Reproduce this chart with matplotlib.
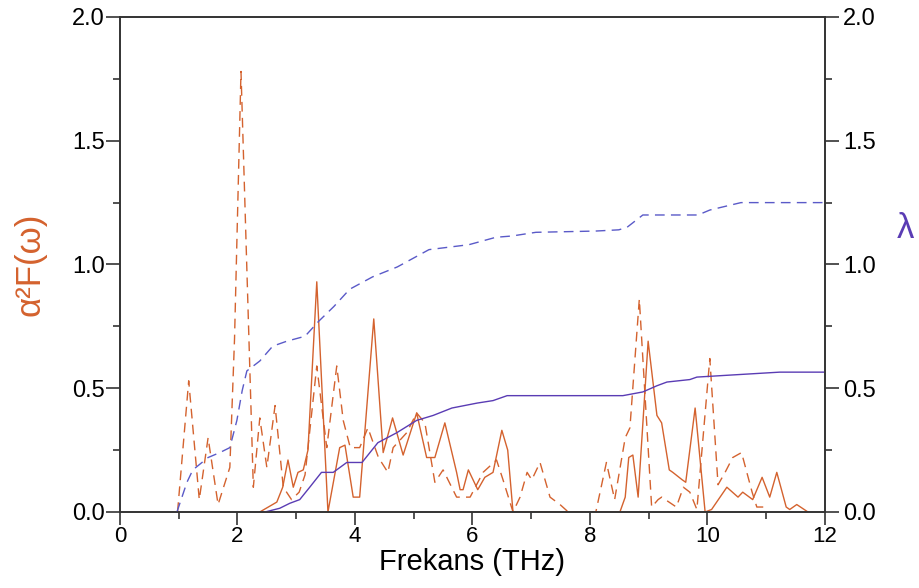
import matplotlib.pyplot as plt
from matplotlib.ticker import MultipleLocator

plt.rcParams['font.family'] = ['Liberation Sans', 'DejaVu Sans']

# a2F(w) - dashed (first case)
a2f_dash_x = [0.98, 1.17, 1.35, 1.50, 1.67, 1.87, 1.95, 2.06, 2.27, 2.38, 2.50, 2.64, 2.78, 2.92,
              3.05, 3.15, 3.35, 3.52, 3.69, 3.80, 3.92, 4.08, 4.22, 4.40, 4.56, 4.65, 4.88, 5.05,
              5.19, 5.36, 5.50, 5.73, 5.96, 6.18, 6.41, 6.52, 6.69, 6.81, 6.93, 7.01, 7.15, 7.32,
              7.49, 7.63, 8.10, 8.28, 8.42, 8.60, 8.68, 8.84, 9.05, 9.16, 9.22, 9.47, 9.59, 9.70,
              9.82, 10.04, 10.18, 10.30, 10.43, 10.58, 10.76, 10.84, 10.95]
a2f_dash_y = [0.00, 0.53, 0.05, 0.30, 0.03, 0.18, 0.70, 1.78, 0.10, 0.38, 0.18, 0.43, 0.10, 0.05,
              0.08, 0.15, 0.59, 0.26, 0.59, 0.37, 0.26, 0.26, 0.34, 0.22, 0.16, 0.26, 0.32, 0.40,
              0.36, 0.12, 0.17, 0.06, 0.06, 0.16, 0.21, 0.13, 0.00, 0.06, 0.16, 0.13, 0.20, 0.06,
              0.03, 0.00, 0.00, 0.20, 0.05, 0.30, 0.34, 0.86, 0.02, 0.05, 0.06, 0.02, 0.10, 0.08,
              0.01, 0.62, 0.11, 0.16, 0.22, 0.24, 0.08, 0.02, 0.02]

# a2F(w) - solid (second case)
a2f_solid_x = [2.38, 2.67, 2.77, 2.86, 2.95, 3.03, 3.12, 3.20, 3.35, 3.54, 3.74, 3.83, 3.97, 4.08,
               4.32, 4.48, 4.64, 4.82, 5.05, 5.22, 5.36, 5.53, 5.73, 5.79, 5.84, 5.93, 6.09, 6.21,
               6.35, 6.50, 6.60, 6.69, 8.51, 8.60, 8.66, 8.73, 8.82, 8.99, 9.14, 9.22, 9.35, 9.41,
               9.57, 9.63, 9.79, 9.96, 10.07, 10.33, 10.52, 10.60, 10.77, 10.93, 11.06, 11.18,
               11.34, 11.40, 11.52, 11.71]
a2f_solid_y = [0.00, 0.04, 0.10, 0.21, 0.10, 0.16, 0.17, 0.25, 0.93, 0.00, 0.26, 0.27, 0.06, 0.06,
               0.78, 0.24, 0.38, 0.23, 0.40, 0.22, 0.22, 0.36, 0.16, 0.09, 0.09, 0.17, 0.09, 0.14,
               0.16, 0.33, 0.25, 0.00, 0.00, 0.06, 0.22, 0.23, 0.06, 0.69, 0.39, 0.36, 0.17, 0.16,
               0.13, 0.12, 0.42, 0.00, 0.01, 0.10, 0.06, 0.08, 0.05, 0.14, 0.06, 0.16,
               0.02, 0.01, 0.03, 0.00]

# lambda - dashed
lam_dash_x = [0.97, 1.14, 1.24, 1.50, 1.70, 1.87, 1.99, 2.08, 2.16, 2.38, 2.60, 2.84, 3.15, 3.38,
              3.64, 3.91, 4.30, 4.72, 5.26, 5.94, 6.40, 6.67, 7.08, 8.09, 8.49, 8.63, 8.90, 9.84,
              10.04, 10.57, 12.0]
lam_dash_y = [0.00, 0.12, 0.17, 0.22, 0.24, 0.26, 0.37, 0.49, 0.57, 0.61, 0.67, 0.69, 0.71, 0.77,
              0.83, 0.90, 0.95, 0.99, 1.06, 1.08, 1.11, 1.115, 1.13, 1.135, 1.14, 1.15, 1.20, 1.20,
              1.22, 1.25, 1.25]

# lambda - solid
lam_solid_x = [2.47, 2.72, 2.89, 3.06, 3.23, 3.43, 3.63, 3.86, 4.12, 4.39, 4.71, 5.05, 5.33, 5.65,
               6.08, 6.35, 6.59, 8.56, 8.90, 9.14, 9.31, 9.70, 9.82, 10.38, 11.23, 12.0]
lam_solid_y = [0.00, 0.015, 0.035, 0.05, 0.10, 0.16, 0.16, 0.20, 0.20, 0.28, 0.32, 0.37, 0.39, 0.42,
               0.44, 0.45, 0.47, 0.47, 0.485, 0.51, 0.525, 0.535, 0.545, 0.553, 0.565, 0.565]

yticks = [0, 0.5, 1.0, 1.5, 2.0]
ytick_labels = ['0.0', '0.5', '1.0', '1.5', '2.0']

orange = '#d4622e'
purple = '#5a3cb4'
blue_purple = '#5a5ac8'

fig = plt.figure(figsize=(9.2, 5.88), dpi=100)
ax = fig.add_axes([0.1304, 0.1293, 0.7663, 0.8418])
ax2 = ax.twinx()

ax.plot(a2f_dash_x, a2f_dash_y, color=orange, lw=1.0, ls=(0, (7, 4.5)))
ax.plot(a2f_solid_x, a2f_solid_y, color=orange, lw=1.0)
ax2.plot(lam_dash_x, lam_dash_y, color=blue_purple, lw=1.0, ls=(0, (7, 4.5)))
ax2.plot(lam_solid_x, lam_solid_y, color=purple, lw=1.0)

for a in (ax, ax2):
    a.set_xlim(0, 12)
    a.set_ylim(0, 2.0)
    a.set_yticks(yticks)
    a.set_yticklabels(ytick_labels)
    a.yaxis.set_minor_locator(MultipleLocator(0.25))
    for s in a.spines.values():
        s.set_color('#333333')
        s.set_linewidth(1.2)

ax.xaxis.set_major_locator(MultipleLocator(2))
ax.xaxis.set_minor_locator(MultipleLocator(1))

ax.tick_params(axis='y', which='major', direction='out', length=10, width=1.2,
               color='#333333', labelsize=17, pad=1)
ax.tick_params(axis='y', which='minor', direction='out', length=5, width=1.2, color='#333333')
ax2.tick_params(axis='y', which='major', direction='out', length=10, width=1.2,
                color='#333333', labelsize=17, pad=3)
ax2.tick_params(axis='y', which='minor', direction='out', length=5, width=1.2, color='#333333')
ax.tick_params(axis='x', which='major', direction='out', length=9, width=1.2,
               color='#333333', labelsize=16, pad=1)
ax.tick_params(axis='x', which='minor', direction='out', length=5, width=1.2, color='#333333')

ax.set_xlabel('Frekans (THz)', fontsize=21, labelpad=1)
ax.set_ylabel('α²F(ω)', fontsize=25, color=orange, labelpad=18)
fig.text(0.984, 0.612, 'λ', fontsize=25, color=purple, ha='center', va='center')

fig.savefig('out.png', dpi=100)
